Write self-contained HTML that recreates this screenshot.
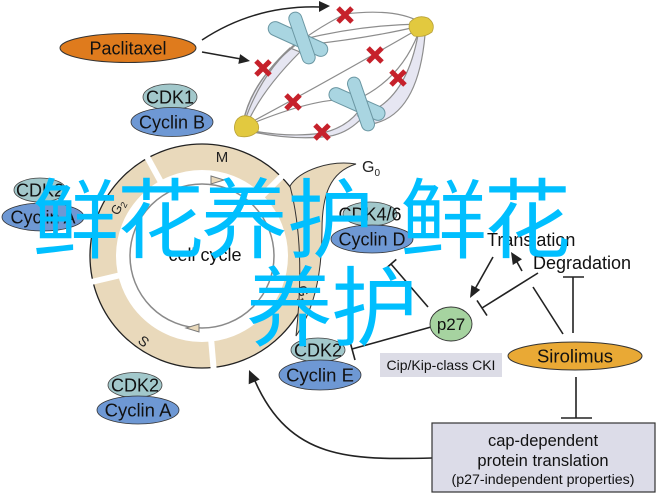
<!DOCTYPE html>
<html><head><meta charset="utf-8"><style>
html,body{margin:0;padding:0;background:#fff;}
svg{display:block;}
text{font-family:"Liberation Sans",Arial,sans-serif;}
</style></head><body>
<svg width="659" height="497" viewBox="0 0 659 497" xmlns="http://www.w3.org/2000/svg">
<rect width="659" height="497" fill="#fff"/>

<!-- Spindle fibers -->
<g fill="none" stroke="#8d8d8d" stroke-width="1.2">
  <path d="M243,124 Q250,85 290,48 L300,52 Q262,90 247,124 Z" fill="#e6e6f2"/>
  <path d="M243,123 Q255,60 345,14 Q395,8 420,22"/>
  <path d="M244,123 Q262,70 300,40"/>
  <path d="M300,40 Q360,25 420,24"/>
  <path d="M305,45 Q370,38 420,26"/>
  <path d="M246,125 Q330,80 420,28"/>
  <path d="M246,126 Q320,95 358,100"/>
  <path d="M248,130 Q290,138 322,133 Q345,128 358,112 L362,118 Q345,136 322,137 Q290,140 248,131 Z" fill="#e6e6f2"/>
  <path d="M358,116 Q405,105 418,35 L425,35 Q418,115 372,124 Z" fill="#e6e6f2"/>
  <path d="M356,100 Q400,80 418,34"/>
</g>
<!-- poles -->
<path d="M236,121 Q241,113 251,117 Q261,123 258,131 Q250,139 238,136 Q232,130 236,121Z" fill="#e2c93f" stroke="#b9a238" stroke-width="0.8"/>
<path d="M410,22 Q418,14 428,18 Q436,24 432,32 Q424,38 414,36 Q407,30 410,22Z" fill="#e2c93f" stroke="#b9a238" stroke-width="0.8"/>

<!-- chromosomes -->
<g fill="#a9d5e1" stroke="#6b97a3" stroke-width="1">
  <rect x="-32" y="-7" width="64" height="14" rx="7" transform="translate(298,39) rotate(24.5)"/>
  <rect x="-27" y="-6.5" width="54" height="13" rx="6.5" transform="translate(302,38) rotate(71)"/>
  <rect x="-30" y="-7" width="60" height="14" rx="7" transform="translate(357,104) rotate(24)"/>
  <rect x="-28" y="-6.5" width="56" height="13" rx="6.5" transform="translate(361,104) rotate(71)"/>
</g>

<!-- red X marks -->
<g stroke="#c6212b" stroke-width="5">
  <path d="M338,8 L352,22 M352,8 L338,22"/>
  <path d="M256,61 L270,75 M270,61 L256,75"/>
  <path d="M368,48 L382,62 M382,48 L368,62"/>
  <path d="M391,71 L405,85 M405,71 L391,85"/>
  <path d="M286,95 L300,109 M300,95 L286,109"/>
  <path d="M315,125 L329,139 M329,125 L315,139"/>
</g>

<!-- Paclitaxel arrows -->
<g stroke="#222" stroke-width="1.5" fill="none">
  <path d="M202,40 Q255,5 320,7"/>
  <path d="M202,52 L241,59"/>
</g>
<polygon points="330,6 319,1 319,12" fill="#222"/>
<polygon points="250,61 240.1,54.1 238.3,63.9" fill="#222"/>

<!-- Paclitaxel -->
<ellipse cx="128" cy="48" rx="68" ry="14.5" fill="#df7b1d" stroke="#333" stroke-width="1"/>
<text x="128" y="54.5" font-size="18" text-anchor="middle" fill="#111">Paclitaxel</text>

<!-- CDK1 / Cyclin B -->
<ellipse cx="170" cy="97" rx="27" ry="13" fill="#a2c8cb" stroke="#444" stroke-width="0.8"/>
<text x="170" y="103.5" font-size="18" text-anchor="middle" fill="#111">CDK1</text>
<ellipse cx="172" cy="122" rx="41" ry="14.5" fill="#6e98d4" stroke="#333" stroke-width="0.8"/>
<text x="172" y="128.5" font-size="18" text-anchor="middle" fill="#111">Cyclin B</text>

<!-- Cell cycle ring -->
<circle cx="202" cy="256" r="99" fill="none" stroke="#e9d9bb" stroke-width="26"/>
<circle cx="202" cy="256" r="112" fill="none" stroke="#222" stroke-width="1.3"/>
<!-- G0 crescent -->
<path d="M290,186 C300,170 330,160 356,164 C330,172 322,195 322,230 C322,280 312,312 296,336 C300,300 304,240 290,186 Z" fill="#e9d9bb" stroke="#333" stroke-width="1"/>
<!-- gaps -->
<g stroke="#fff" stroke-width="6">
  <line x1="162" y1="184" x2="145" y2="153"/>
  <line x1="260" y1="198" x2="286" y2="172"/>
  <line x1="121" y1="275" x2="87" y2="283"/>
  <line x1="211" y1="338" x2="214" y2="373"/>
</g>
<circle cx="202" cy="256" r="72" fill="none" stroke="#8a8a8a" stroke-width="1.5"/>
<polygon points="211,176 224,180 211,184" fill="#e9d9bb" stroke="#777" stroke-width="1"/>
<polygon points="199,324 186,328 199,332" fill="#e9d9bb" stroke="#777" stroke-width="1"/>
<text x="222" y="162" font-size="15" text-anchor="middle" fill="#222">M</text>
<text x="0" y="0" font-size="13" fill="#222" transform="translate(118,216) rotate(-62)">G<tspan font-size="9" dy="3">2</tspan></text>
<text x="0" y="0" font-size="14" fill="#222" transform="translate(137,342) rotate(40)">S</text>
<text x="0" y="0" font-size="14" fill="#222" transform="translate(297,287) rotate(75)">G<tspan font-size="9" dy="3">1</tspan></text>
<text x="362" y="172" font-size="16" fill="#222">G<tspan font-size="10" dy="4">0</tspan></text>
<text x="205" y="261" font-size="18" text-anchor="middle" fill="#111">cell cycle</text>

<!-- CDK2/Cyclin A (left middle) -->
<ellipse cx="40" cy="190" rx="26" ry="12" fill="#a2c8cb" stroke="#444" stroke-width="0.8"/>
<text x="40" y="196.5" font-size="18" text-anchor="middle" fill="#111">CDK2</text>
<ellipse cx="43" cy="217" rx="41" ry="14" fill="#6e98d4" stroke="#333" stroke-width="0.8"/>
<text x="43" y="223.5" font-size="18" text-anchor="middle" fill="#111">Cyclin A</text>

<!-- CDK2/Cyclin A bottom -->
<ellipse cx="135" cy="385" rx="27" ry="12.5" fill="#a2c8cb" stroke="#444" stroke-width="0.8"/>
<text x="135" y="391.5" font-size="18" text-anchor="middle" fill="#111">CDK2</text>
<ellipse cx="138" cy="410" rx="41" ry="14" fill="#6e98d4" stroke="#333" stroke-width="0.8"/>
<text x="138" y="416.5" font-size="18.5" text-anchor="middle" fill="#111">Cyclin A</text>

<!-- CDK4/6 / Cyclin D -->
<ellipse cx="370" cy="214" rx="27" ry="12" fill="#a2c8cb" stroke="#444" stroke-width="0.8"/>
<text x="370" y="220.5" font-size="18" text-anchor="middle" fill="#111">CDK4/6</text>
<ellipse cx="372" cy="239" rx="41" ry="14" fill="#6e98d4" stroke="#333" stroke-width="0.8"/>
<text x="372" y="245.5" font-size="18" text-anchor="middle" fill="#111">Cyclin D</text>

<!-- CDK2 / Cyclin E -->
<ellipse cx="318" cy="350" rx="27" ry="12" fill="#a2c8cb" stroke="#444" stroke-width="0.8"/>
<text x="318" y="356.5" font-size="18" text-anchor="middle" fill="#111">CDK2</text>
<ellipse cx="320" cy="375" rx="41" ry="15" fill="#6e98d4" stroke="#333" stroke-width="0.8"/>
<text x="320" y="381.5" font-size="18.5" text-anchor="middle" fill="#111">Cyclin E</text>

<!-- connectors -->
<g stroke="#222" stroke-width="1.6" fill="none">
  <line x1="493" y1="257" x2="475" y2="289"/>
  <line x1="563" y1="334" x2="533" y2="287"/>
  <line x1="522" y1="271" x2="517" y2="262"/>
  <line x1="538" y1="273" x2="482" y2="308"/>
  <line x1="477" y1="300.4" x2="487" y2="315.6"/>
  <line x1="573" y1="333" x2="573" y2="277"/>
  <line x1="563" y1="277" x2="584" y2="277"/>
  <line x1="428" y1="307" x2="391" y2="264"/>
  <line x1="385.7" y1="268.6" x2="396.3" y2="259.4"/>
  <line x1="431" y1="327" x2="352" y2="349"/>
  <line x1="349" y1="338" x2="355" y2="360"/>
  <line x1="576" y1="377" x2="576" y2="418"/>
  <line x1="561" y1="418" x2="592" y2="418"/>
  <path d="M432,458 C350,460 290,460 255,381"/>
</g>
<polygon points="470,298 480.2,289.9 471.4,285.1" fill="#222"/>
<polygon points="511,252 522,259.2 512.8,265" fill="#222"/>
<polygon points="249,370 259.7,379.5 248.7,384.3" fill="#222"/>

<text x="487" y="246" font-size="18" fill="#111">Translation</text>
<text x="533" y="269" font-size="18" fill="#111">Degradation</text>

<!-- p27 -->
<ellipse cx="451" cy="324" rx="21" ry="17" fill="#a6d3a0" stroke="#333" stroke-width="0.9"/>
<text x="451" y="330" font-size="17" text-anchor="middle" fill="#111">p27</text>

<!-- Cip/Kip -->
<rect x="380" y="353" width="122" height="24" fill="#dcdce6"/>
<text x="441" y="370" font-size="14" text-anchor="middle" fill="#111">Cip/Kip-class CKI</text>

<!-- Sirolimus -->
<ellipse cx="575" cy="356" rx="67" ry="14" fill="#e9a935" stroke="#333" stroke-width="1"/>
<text x="575" y="362.5" font-size="18.5" text-anchor="middle" fill="#111">Sirolimus</text>

<!-- box -->
<rect x="432" y="423" width="223" height="69" fill="#dcdce8" stroke="#333" stroke-width="1.2"/>
<text x="543" y="446" font-size="16.5" text-anchor="middle" fill="#111">cap-dependent</text>
<text x="543" y="466" font-size="16.5" text-anchor="middle" fill="#111">protein translation</text>
<text x="543" y="484" font-size="14.2" text-anchor="middle" fill="#111">(p27-independent properties)</text>

<!-- watermark -->
<g font-family="'Noto Sans CJK SC','WenQuanYi Zen Hei',sans-serif" font-size="87" fill="#00bfff">
  <text x="32 117 201 287 400 484" y="251" style="font-family:'Noto Sans CJK SC','WenQuanYi Zen Hei',sans-serif">鲜花养护鲜花</text>
  <text x="246 331" y="339" style="font-family:'Noto Sans CJK SC','WenQuanYi Zen Hei',sans-serif">养护</text>
</g>
</svg>
</body></html>
